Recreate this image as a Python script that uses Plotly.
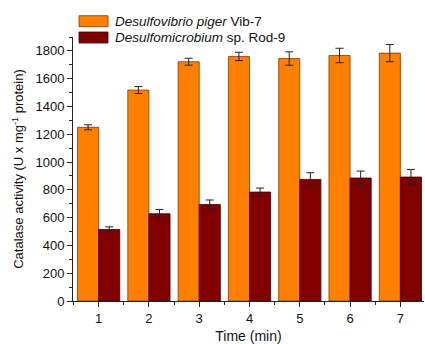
import plotly.graph_objects as go

times = [1, 2, 3, 4, 5, 6, 7]
piger_vals = [1250, 1518, 1722, 1760, 1745, 1767, 1784]
piger_err = [18, 25, 25, 30, 48, 52, 62]
rod_vals = [515, 628, 695, 784, 875, 885, 892]
rod_err = [19, 31, 32, 29, 48, 50, 55]
y_ticks = [0, 200, 400, 600, 800, 1000, 1200, 1400, 1600, 1800]

orange = "#FF8000"
dark = "#800000"
font = "Liberation Sans, Arial, sans-serif"

fig = go.Figure()
fig.add_trace(go.Bar(
    x=times, y=piger_vals, name="Desulfovibrio piger Vib-7",
    marker=dict(color=orange, line=dict(color="#7a3d00", width=0.8)),
    error_y=dict(type="data", array=piger_err, color="#222222", thickness=1, width=4),
    showlegend=False,
))
fig.add_trace(go.Bar(
    x=times, y=rod_vals, name="Desulfomicrobium sp. Rod-9",
    marker=dict(color=dark, line=dict(color="#3a0000", width=0.8)),
    error_y=dict(type="data", array=rod_err, color="#222222", thickness=1, width=4),
    showlegend=False,
))

W, H = 425, 344
ml, mr, mt, mb = 73, 1, 37, 43

fig.update_layout(
    width=W, height=H,
    margin=dict(l=ml, r=mr, t=mt, b=mb),
    barmode="group", bargap=0.16, bargroupgap=0,
    plot_bgcolor="white", paper_bgcolor="white",
    font=dict(family=font, size=13, color="#111111"),
)
fig.update_xaxes(
    range=[0.49, 7.47], tickvals=times, ticktext=[str(t) for t in times],
    showline=True, linecolor="#222222", linewidth=1,
    ticks="outside", ticklen=5, tickcolor="#222222",
    minor=dict(dtick=1, tick0=0.5, ticks="outside", ticklen=3, tickcolor="#222222"),
    showgrid=False, zeroline=False,
    title=dict(text="Time (min)", font=dict(size=14), standoff=7),
    tickfont=dict(size=13),
)
fig.update_yaxes(
    range=[0, 1900], tickvals=y_ticks,
    showline=True, linecolor="#222222", linewidth=1,
    ticks="outside", ticklen=5, tickcolor="#222222",
    minor=dict(dtick=100, tick0=0, ticks="outside", ticklen=3, tickcolor="#222222"),
    showgrid=False, zeroline=False,
    title=dict(text="Catalase activity (U x mg<sup>-1</sup> protein)", font=dict(size=13), standoff=8),
    tickfont=dict(size=13),
)

# legend drawn as boxes + labels (paper coords)
pw = W - ml - mr
ph = H - mt - mb
def px(x):
    return (x - ml) / pw
def py(y):
    return (H - mb - y) / ph

legend_items = [
    (orange, "#7a3d00", "<i>Desulfovibrio piger</i> Vib-7", 15.7, 26.7),
    (dark, "#3a0000", "<i>Desulfomicrobium</i> sp. Rod-9", 32.0, 43.0),
]
for fill, edge, label, y0, y1 in legend_items:
    fig.add_shape(type="rect", xref="paper", yref="paper",
                  x0=px(79), x1=px(108), y0=py(y1), y1=py(y0),
                  fillcolor=fill, line=dict(color=edge, width=0.8))
    fig.add_annotation(xref="paper", yref="paper", x=px(113), y=py((y0 + y1) / 2),
                       xanchor="left", yanchor="middle", text=label, showarrow=False,
                       font=dict(size=13.5, family=font, color="#111111"))

fig.write_html("out.html", config={"displayModeBar": False},
               post_script="document.body.style.margin='0';")
